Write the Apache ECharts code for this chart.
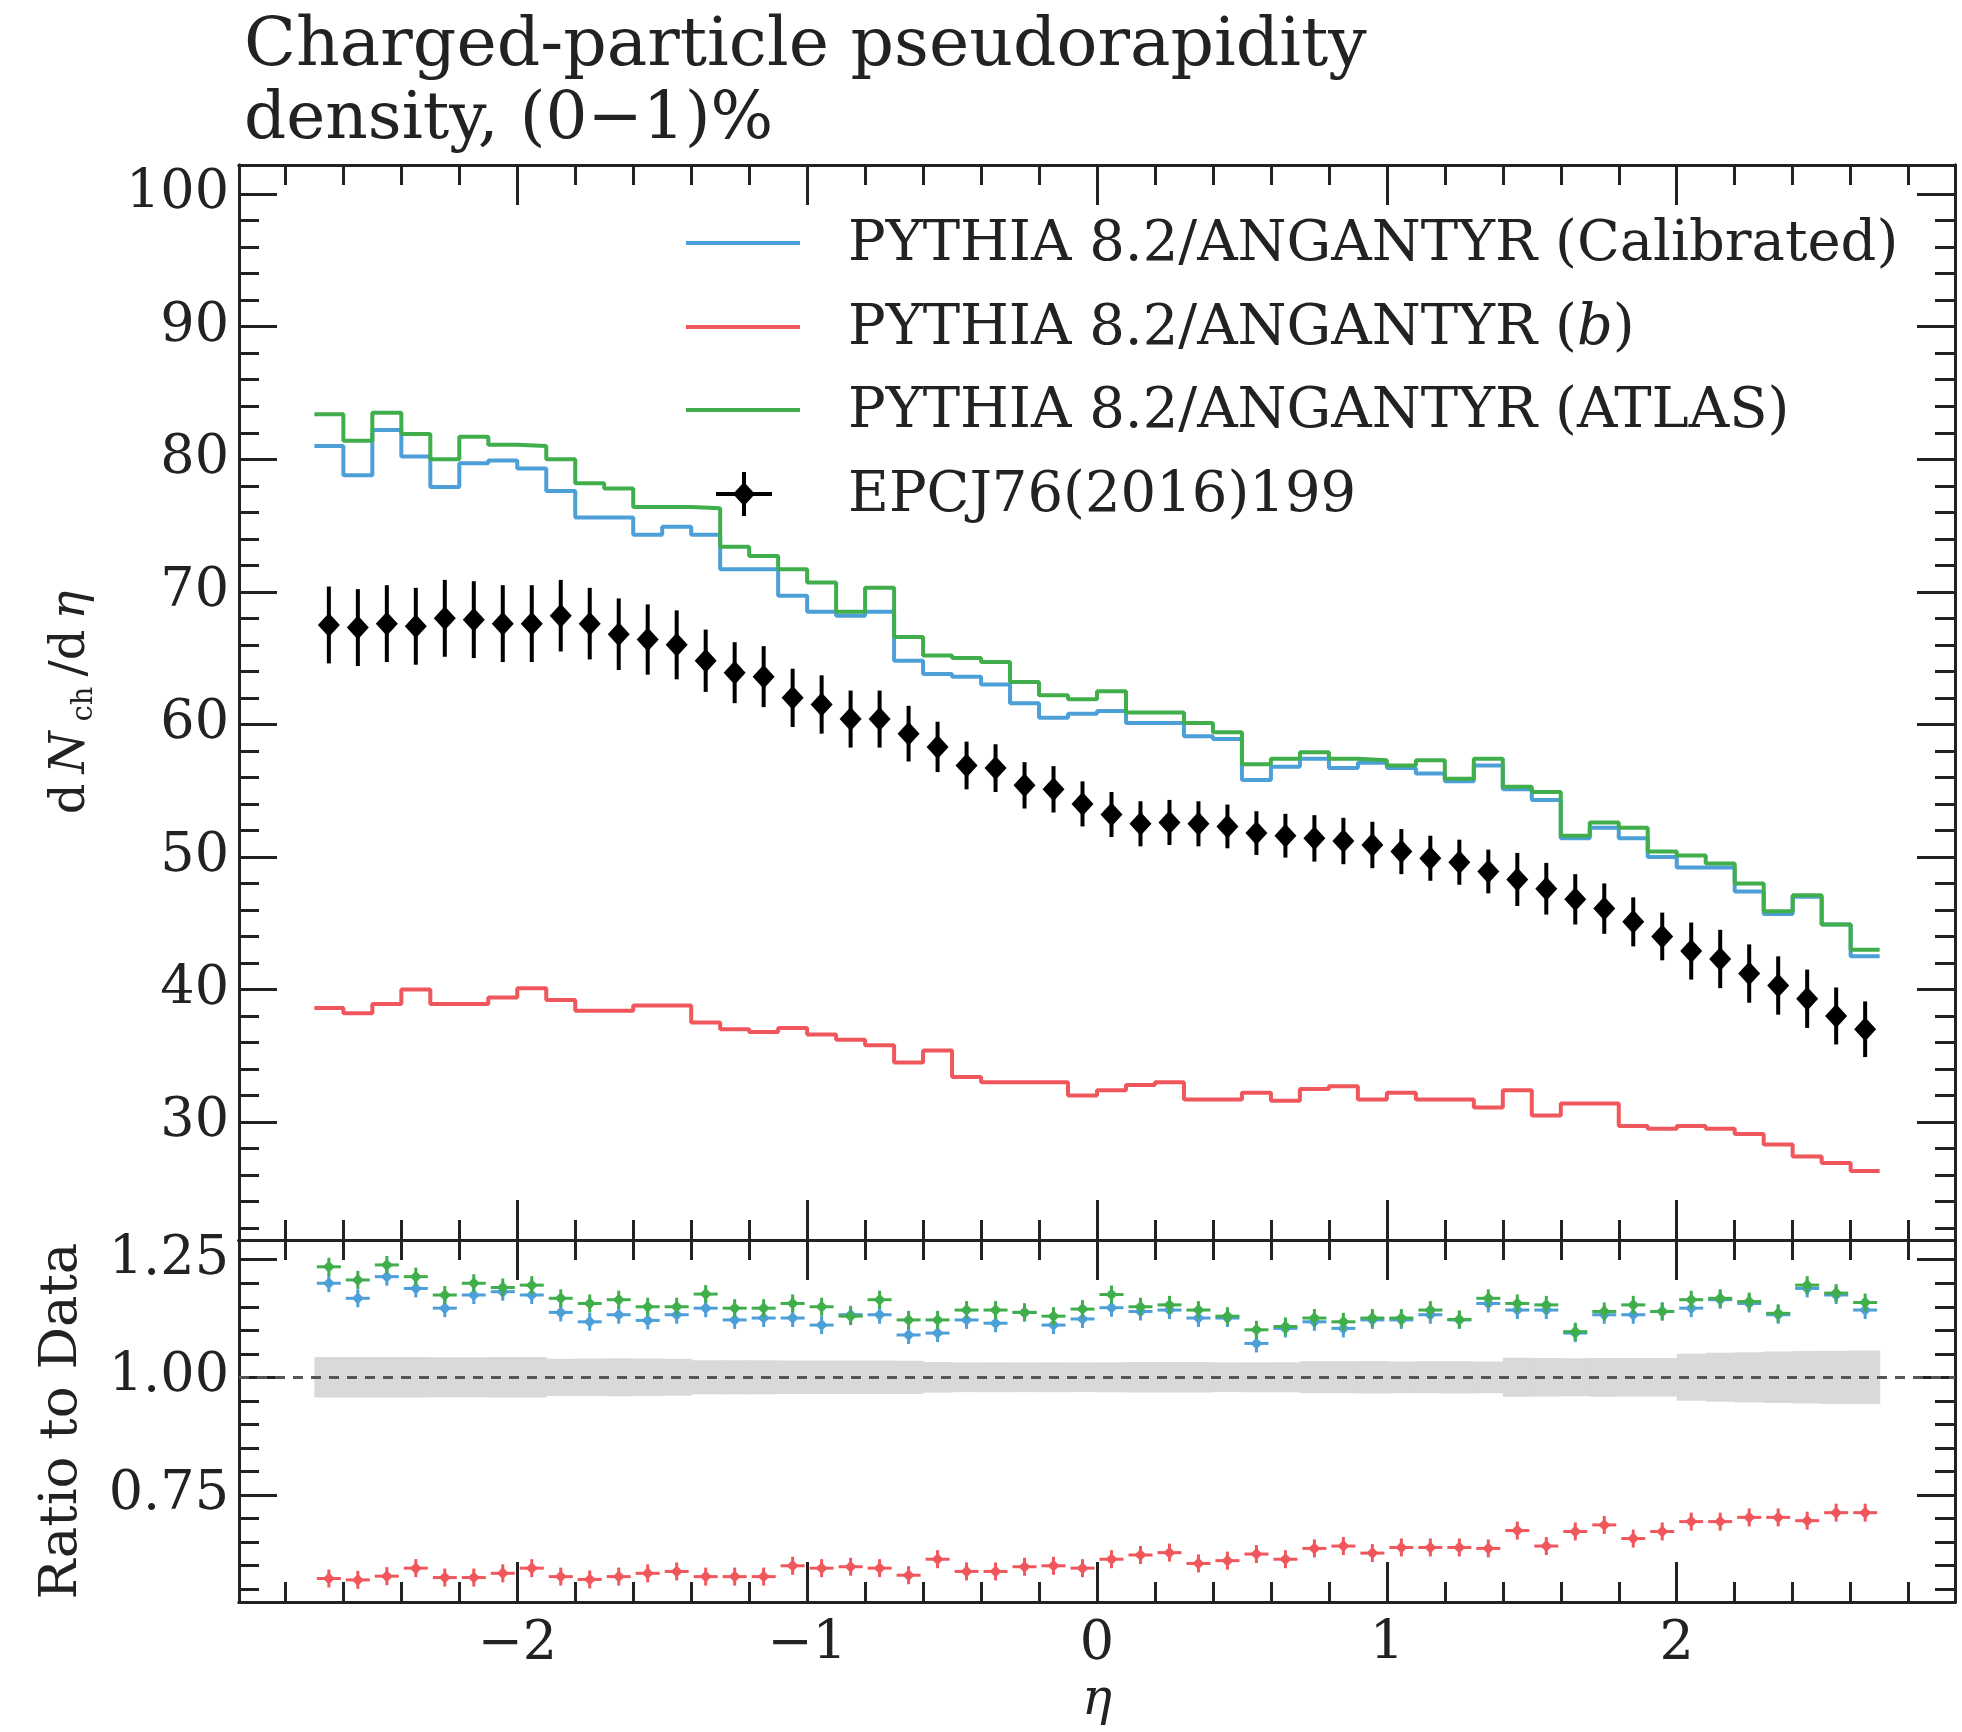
<!DOCTYPE html>
<html>
<head>
<meta charset="utf-8">
<title>Charged-particle pseudorapidity density</title>
<script src="https://cdn.jsdelivr.net/npm/echarts@6.0.0/dist/echarts.min.js"></script>
<style>
html, body { margin: 0; padding: 0; background: #fff; }
#chart { width: 1962px; height: 1732px; }
</style>
</head>
<body>
<div id="chart"></div>
<script>
// bin centres in eta (bin width 0.1)
var etaCenters = [-2.65, -2.55, -2.45, -2.35, -2.25, -2.15, -2.05, -1.95, -1.85, -1.75,
    -1.65, -1.55, -1.45, -1.35, -1.25, -1.15, -1.05, -0.95, -0.85, -0.75,
    -0.65, -0.55, -0.45, -0.35, -0.25, -0.15, -0.05, 0.05, 0.15, 0.25,
    0.35, 0.45, 0.55, 0.65, 0.75, 0.85, 0.95, 1.05, 1.15, 1.25,
    1.35, 1.45, 1.55, 1.65, 1.75, 1.85, 1.95, 2.05, 2.15, 2.25,
    2.35, 2.45, 2.55, 2.65];
var halfBin = 0.05;

// EPCJ76(2016)199 data
var dataVals = [67.5, 67.3, 67.6, 67.4, 68.0, 67.9, 67.6, 67.6, 68.2, 67.6,
    66.8, 66.4, 66.0, 64.8, 63.9, 63.6, 62.0, 61.5, 60.4, 60.4,
    59.3, 58.3, 56.9, 56.7, 55.4, 55.1, 54.0, 53.2, 52.5, 52.6,
    52.5, 52.3, 51.8, 51.6, 51.4, 51.2, 50.9, 50.4, 49.9, 49.6,
    48.9, 48.3, 47.6, 46.8, 46.1, 45.1, 44.0, 42.9, 42.3, 41.2,
    40.3, 39.3, 38.0, 37.0];
var dataErr = [2.9, 2.9, 2.9, 2.9, 2.9, 2.9, 2.9, 2.9, 2.7, 2.7,
    2.7, 2.65, 2.6, 2.35, 2.3, 2.3, 2.2, 2.2, 2.15, 2.15,
    2.1, 1.9, 1.8, 1.8, 1.75, 1.75, 1.7, 1.7, 1.7, 1.7,
    1.7, 1.65, 1.65, 1.65, 1.75, 1.75, 1.75, 1.7, 1.7, 1.7,
    1.65, 2.0, 1.95, 1.9, 1.9, 1.85, 1.8, 2.15, 2.2, 2.2,
    2.2, 2.2, 2.15, 2.1];

// PYTHIA 8.2/ANGANTYR histograms
var mcCalibrated = [81.0, 78.8, 82.2, 80.2, 77.9, 79.7, 79.9, 79.3, 77.6, 75.6,
    75.6, 74.3, 74.9, 74.3, 71.7, 71.7, 69.7, 68.5, 68.2, 68.5,
    64.8, 63.8, 63.6, 63.0, 61.6, 60.5, 60.8, 61.0, 60.1, 60.1,
    59.1, 58.9, 55.8, 56.8, 57.4, 56.7, 57.1, 56.7, 56.3, 55.7,
    56.9, 55.1, 54.3, 51.4, 52.2, 51.4, 50.0, 49.2, 49.2, 47.4,
    45.7, 47.0, 44.9, 42.5];
var mcB = [38.6, 38.2, 38.9, 40.0, 38.9, 38.9, 39.4, 40.1, 39.2, 38.4,
    38.4, 38.8, 38.8, 37.5, 37.0, 36.8, 37.1, 36.6, 36.2, 35.8,
    34.5, 35.4, 33.4, 33.0, 33.0, 33.0, 32.0, 32.4, 32.8, 33.0,
    31.7, 31.7, 32.2, 31.6, 32.5, 32.7, 31.7, 32.2, 31.7, 31.7,
    31.1, 32.4, 30.5, 31.4, 31.4, 29.7, 29.5, 29.7, 29.5, 29.1,
    28.3, 27.4, 26.9, 26.3];
var mcAtlas = [83.4, 81.4, 83.5, 81.9, 80.0, 81.7, 81.1, 81.0, 80.0, 78.2,
    77.8, 76.4, 76.4, 76.3, 73.4, 72.7, 71.7, 70.7, 68.5, 70.3,
    66.6, 65.2, 65.0, 64.7, 63.2, 62.2, 61.9, 62.5, 60.9, 60.9,
    60.1, 59.4, 57.0, 57.4, 57.9, 57.4, 57.3, 56.9, 57.3, 55.9,
    57.4, 55.3, 54.9, 51.6, 52.6, 52.2, 50.4, 50.1, 49.5, 48.0,
    45.9, 47.1, 44.9, 43.0];

// ratio to data
var ratioCalibrated = [1.200, 1.168, 1.214, 1.189, 1.147, 1.175, 1.182, 1.175, 1.138, 1.118,
    1.133, 1.121, 1.133, 1.147, 1.122, 1.126, 1.126, 1.111, 1.133, 1.133,
    1.090, 1.094, 1.122, 1.115, 1.138, 1.111, 1.124, 1.148, 1.140, 1.143,
    1.126, 1.126, 1.072, 1.104, 1.118, 1.104, 1.122, 1.122, 1.133, 1.122,
    1.157, 1.143, 1.143, 1.094, 1.133, 1.133, 1.140, 1.147, 1.165, 1.157,
    1.133, 1.189, 1.175, 1.143];
var ratioB = [0.572, 0.569, 0.577, 0.594, 0.574, 0.574, 0.583, 0.594, 0.576, 0.570,
    0.576, 0.583, 0.587, 0.576, 0.576, 0.576, 0.599, 0.594, 0.597, 0.594,
    0.579, 0.613, 0.587, 0.587, 0.597, 0.599, 0.594, 0.613, 0.622, 0.627,
    0.604, 0.610, 0.624, 0.613, 0.636, 0.641, 0.626, 0.638, 0.638, 0.638,
    0.636, 0.674, 0.641, 0.672, 0.686, 0.657, 0.672, 0.693, 0.693, 0.702,
    0.702, 0.695, 0.712, 0.712];
var ratioAtlas = [1.235, 1.207, 1.239, 1.214, 1.175, 1.200, 1.191, 1.196, 1.168, 1.157,
    1.165, 1.150, 1.150, 1.177, 1.147, 1.147, 1.157, 1.150, 1.130, 1.165,
    1.122, 1.122, 1.143, 1.143, 1.138, 1.130, 1.145, 1.176, 1.150, 1.154,
    1.143, 1.130, 1.101, 1.108, 1.126, 1.118, 1.126, 1.126, 1.143, 1.123,
    1.168, 1.157, 1.154, 1.097, 1.140, 1.154, 1.140, 1.165, 1.168, 1.161,
    1.136, 1.196, 1.179, 1.159];

// tick labels
var etaTicks = [-2, -1, 0, 1, 2];
var mainTicks = [30, 40, 50, 60, 70, 80, 90, 100];
var ratioTicks = [0.75, 1.00, 1.25];

var FONT = 'DejaVu Serif';
var INK = '#222';
var BLUE = '#4d9fd8', RED = '#f0575c', GREEN = '#3fae4b';

var etaMinor = [], mainMinor = [], ratioMinor = [];
for (var k = -14; k <= 14; k++) if (k % 5 !== 0) etaMinor.push(k * 0.2);
for (var m = 22; m <= 98; m += 2) if (m % 10 !== 0) mainMinor.push(m);
for (var r = 11; r <= 25; r++) if (r % 5 !== 0) ratioMinor.push(r * 0.05);

var chart = echarts.init(document.getElementById('chart'));

function xAx(grid, pos, ticks, len, label) {
    return {
        type: 'value', gridIndex: grid, position: pos, min: -2.96, max: 2.96,
        axisLine: {show: true, onZero: false, lineStyle: {color: INK, width: 3}},
        axisTick: {show: true, inside: true, length: len, customValues: ticks, lineStyle: {color: INK, width: 3}},
        axisLabel: {show: !!label, customValues: ticks, margin: 16, fontFamily: FONT, fontSize: 54, color: INK,
            formatter: function (v) { return v < 0 ? '\u2212' + Math.abs(v) : String(v); }},
        splitLine: {show: false}
    };
}

function yAx(grid, pos, min, max, ticks, len, label, fmt) {
    return {
        type: 'value', gridIndex: grid, position: pos, min: min, max: max,
        axisLine: {show: true, onZero: false, lineStyle: {color: INK, width: 3}},
        axisTick: {show: true, inside: true, length: len, customValues: ticks, lineStyle: {color: INK, width: 3}},
        axisLabel: {show: !!label, customValues: ticks, margin: 10, fontFamily: FONT, fontSize: 54, color: INK,
            formatter: fmt},
        splitLine: {show: false}
    };
}

var xAxes = [
    xAx(0, 'bottom', etaTicks, 40), xAx(0, 'bottom', etaMinor, 20),
    xAx(0, 'top', etaTicks, 40), xAx(0, 'top', etaMinor, 20),
    xAx(1, 'bottom', etaTicks, 40, true), xAx(1, 'bottom', etaMinor, 20),
    xAx(1, 'top', etaTicks, 40), xAx(1, 'top', etaMinor, 20)
];
xAxes[4].name = 'η';
xAxes[4].nameLocation = 'middle';
xAxes[4].nameGap = 74;
xAxes[4].nameTextStyle = {fontFamily: FONT, fontStyle: 'italic', fontSize: 50, color: INK};

var mainFmt = function (v) { return String(v); };
var ratioFmt = function (v) { return v.toFixed(2); };
var yAxes = [
    yAx(0, 'left', 21.1, 102.2, mainTicks, 38, true, mainFmt), yAx(0, 'left', 21.1, 102.2, mainMinor, 20),
    yAx(0, 'right', 21.1, 102.2, mainTicks, 38), yAx(0, 'right', 21.1, 102.2, mainMinor, 20),
    yAx(1, 'left', 0.522, 1.292, ratioTicks, 38, true, ratioFmt), yAx(1, 'left', 0.522, 1.292, ratioMinor, 20),
    yAx(1, 'right', 0.522, 1.292, ratioTicks, 38), yAx(1, 'right', 0.522, 1.292, ratioMinor, 20)
];
yAxes[0].name = '{r|d}{i|N}{s|ch}{r|/d}{i|η}';
yAxes[0].nameLocation = 'middle';
yAxes[0].nameGap = 140;
yAxes[0].nameTextStyle = {color: INK, rich: {
    r: {fontFamily: FONT, fontSize: 48, color: INK, lineHeight: 54, padding: [0, 5]},
    i: {fontFamily: FONT, fontStyle: 'italic', fontSize: 48, color: INK, lineHeight: 54, padding: [0, 5]},
    s: {fontFamily: FONT, fontSize: 29, color: INK, verticalAlign: 'bottom', lineHeight: 54, padding: [0, 5]}
}};
yAxes[4].name = 'Ratio to Data';
yAxes[4].nameLocation = 'middle';
yAxes[4].nameGap = 150;
yAxes[4].nameTextStyle = {fontFamily: FONT, fontSize: 53, color: INK};

function stepData(vals) {
    var pts = vals.map(function (v, i) { return [etaCenters[i] - halfBin, v]; });
    pts.push([etaCenters[etaCenters.length - 1] + halfBin, vals[vals.length - 1]]);
    return pts;
}

function histo(name, vals, color) {
    return {
        name: name, type: 'line', step: 'end', xAxisIndex: 0, yAxisIndex: 0,
        showSymbol: false, symbol: 'none', silent: true, animation: false,
        lineStyle: {color: color, width: 4}, data: stepData(vals)
    };
}

function ratioMarks(name, vals, color) {
    return {
        name: name, type: 'custom', xAxisIndex: 4, yAxisIndex: 4, animation: false, silent: true,
        data: vals.map(function (v, i) { return [etaCenters[i], v]; }),
        renderItem: function (params, api) {
            var p = api.coord([api.value(0), api.value(1)]);
            return {type: 'group', children: [
                {type: 'line', shape: {x1: p[0] - 12, y1: p[1], x2: p[0] + 12, y2: p[1]}, style: {stroke: color, lineWidth: 3}},
                {type: 'line', shape: {x1: p[0], y1: p[1] - 9, x2: p[0], y2: p[1] + 9}, style: {stroke: color, lineWidth: 3}},
                {type: 'polygon', shape: {points: [[p[0], p[1] - 6], [p[0] + 6, p[1]], [p[0], p[1] + 6], [p[0] - 6, p[1]]]}, style: {fill: color}}
            ]};
        }
    };
}

var option = {
    backgroundColor: '#fff',
    animation: false,
    grid: [
        {left: 239, top: 165, width: 1716, height: 1075},
        {left: 239, top: 1240, width: 1716, height: 362}
    ],
    xAxis: xAxes,
    yAxis: yAxes,
    series: [
        histo('PYTHIA 8.2/ANGANTYR (b)', mcB, RED),
        histo('PYTHIA 8.2/ANGANTYR (Calibrated)', mcCalibrated, BLUE),
        histo('PYTHIA 8.2/ANGANTYR (ATLAS)', mcAtlas, GREEN),
        {
            name: 'EPCJ76(2016)199', type: 'custom', xAxisIndex: 0, yAxisIndex: 0, animation: false, silent: true,
            data: etaCenters.map(function (x, i) { return [x, dataVals[i], dataErr[i]]; }),
            renderItem: function (params, api) {
                var x = api.value(0), y = api.value(1), e = api.value(2);
                var top = api.coord([x, y + e]), bot = api.coord([x, y - e]), c = api.coord([x, y]);
                return {type: 'group', children: [
                    {type: 'line', shape: {x1: top[0], y1: top[1], x2: bot[0], y2: bot[1]}, style: {stroke: '#000', lineWidth: 4}},
                    {type: 'polygon', shape: {points: [[c[0], c[1] - 12], [c[0] + 11, c[1]], [c[0], c[1] + 12], [c[0] - 11, c[1]]]}, style: {fill: '#000'}}
                ]};
            }
        },
        {
            name: 'data band', type: 'custom', xAxisIndex: 4, yAxisIndex: 4, animation: false, silent: true,
            data: etaCenters.map(function (x, i) { return [x, dataErr[i] / dataVals[i]]; }),
            renderItem: function (params, api) {
                var x = api.value(0), rel = api.value(1);
                var a = api.coord([x - halfBin, 1 + rel]), b = api.coord([x + halfBin, 1 - rel]);
                return {type: 'rect', shape: {x: a[0], y: a[1], width: b[0] - a[0] + 0.6, height: b[1] - a[1]},
                    style: {fill: '#d9d9d9'}};
            },
            markLine: {
                silent: true, symbol: 'none', label: {show: false},
                lineStyle: {color: '#555', type: [10, 8], width: 3},
                data: [{yAxis: 1}]
            }
        },
        ratioMarks('ratio calibrated', ratioCalibrated, BLUE),
        ratioMarks('ratio b', ratioB, RED),
        ratioMarks('ratio atlas', ratioAtlas, GREEN)
    ],
    graphic: [
        {type: 'text', left: 244, top: 13, style: {text: 'Charged-particle pseudorapidity', fontFamily: FONT, fontSize: 68, fill: INK}},
        {type: 'text', left: 244, top: 88, style: {text: 'density, (0\u22121)%', fontFamily: FONT, fontSize: 66, fill: INK}},
        {type: 'line', shape: {x1: 686, y1: 243, x2: 800, y2: 243}, style: {stroke: BLUE, lineWidth: 4}},
        {type: 'line', shape: {x1: 686, y1: 327, x2: 800, y2: 327}, style: {stroke: RED, lineWidth: 4}},
        {type: 'line', shape: {x1: 686, y1: 410, x2: 800, y2: 410}, style: {stroke: GREEN, lineWidth: 4}},
        {type: 'line', shape: {x1: 716, y1: 494, x2: 772, y2: 494}, style: {stroke: '#000', lineWidth: 4}},
        {type: 'line', shape: {x1: 744, y1: 472, x2: 744, y2: 516}, style: {stroke: '#000', lineWidth: 4}},
        {type: 'polygon', shape: {points: [[744, 482], [755, 494], [744, 506], [733, 494]]}, style: {fill: '#000'}},
        {type: 'text', x: 848, y: 245, style: {text: 'PYTHIA 8.2/ANGANTYR (Calibrated)', fontFamily: FONT, fontSize: 56, fill: INK, verticalAlign: 'middle'}},
        {type: 'text', x: 848, y: 329, style: {text: '{n|PYTHIA 8.2/ANGANTYR (}{i|b}{n|)}', verticalAlign: 'middle', fill: INK,
            rich: {n: {fontFamily: FONT, fontSize: 56, fill: INK}, i: {fontFamily: FONT, fontStyle: 'italic', fontSize: 56, fill: INK}}}},
        {type: 'text', x: 848, y: 412, style: {text: 'PYTHIA 8.2/ANGANTYR (ATLAS)', fontFamily: FONT, fontSize: 56, fill: INK, verticalAlign: 'middle'}},
        {type: 'text', x: 848, y: 496, style: {text: 'EPCJ76(2016)199', fontFamily: FONT, fontSize: 56, fill: INK, verticalAlign: 'middle'}}
    ]
};
chart.setOption(option);
</script>
</body>
</html>
